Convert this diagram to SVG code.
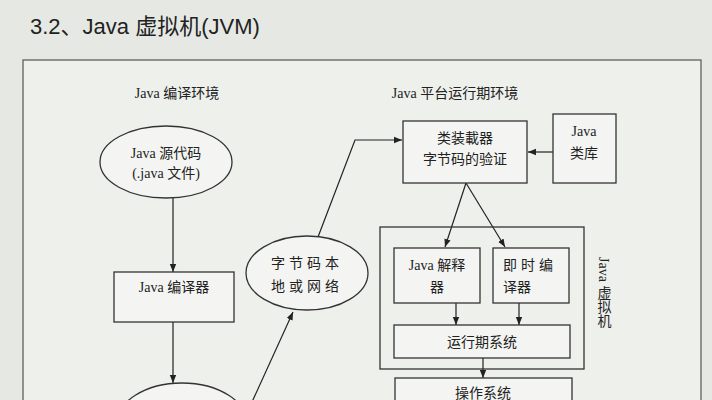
<svg xmlns="http://www.w3.org/2000/svg" width="712" height="400" viewBox="0 0 712 400">
<defs>
<marker id="ah" viewBox="0 0 10 10" refX="10" refY="5" markerWidth="8" markerHeight="8" markerUnits="userSpaceOnUse" orient="auto"><path d="M0,1 L10,5 L0,9 z" fill="#222"/></marker>
<style>
.s{fill:none;stroke:#333;stroke-width:1.3}
.b{fill:#f4f5f2;stroke:#333;stroke-width:1.3}
.t{font-family:"Liberation Serif","Noto Sans CJK SC",serif;font-size:14px;fill:#222}
.c{text-anchor:middle}
.l{fill:none;stroke:#222;stroke-width:1.2;marker-end:url(#ah)}
</style>
</defs>
<rect width="712" height="400" fill="#e6e9e3"/>
<text x="30" y="34" font-family="Liberation Sans,Noto Sans CJK SC,sans-serif" font-size="22" fill="#222">3.2、Java 虚拟机(JVM)</text>
<rect x="23" y="60" width="678" height="350" fill="#eef0ec" stroke="#555" stroke-width="1.2"/>
<text class="t c" x="177" y="98">Java 编译环境</text>
<text class="t c" x="455" y="98">Java 平台运行期环境</text>
<g id="connectors">
<path class="l" d="M173,198 V272"/>
<path class="l" d="M173,322 V383"/>
<path class="l" d="M252,402 L293,312"/>
<path class="l" d="M318,237 L355,140 H402"/>
<path class="l" d="M553,152 H528"/>
<path class="l" d="M466,183 L445,247"/>
<path class="l" d="M466,183 L505,247"/>
<path class="l" d="M456,303 V325"/>
<path class="l" d="M519,303 V325"/>
<path class="l" d="M483,358 V378"/>
</g>
<g id="src"><ellipse class="b" cx="166" cy="162" rx="66" ry="36"/><text class="t c" x="166" y="158">Java 源代码</text><text class="t c" x="166" y="178">(.java 文件)</text></g>
<g id="javac"><rect class="b" x="114" y="272" width="120" height="50"/><text class="t c" x="174" y="292">Java 编译器</text></g>
<g id="bytecode2"><ellipse class="b" cx="182" cy="425" rx="66" ry="42"/></g>
<g id="bytecode"><ellipse class="b" cx="307" cy="273" rx="61" ry="37"/><text class="t c" x="307" y="268" letter-spacing="4">字节码本</text><text class="t c" x="307" y="291" letter-spacing="4">地或网络</text></g>
<g id="loader"><rect class="b" x="403" y="121" width="124" height="62"/><text class="t c" x="465" y="143">类装載器</text><text class="t c" x="465" y="164">字节码的验证</text></g>
<g id="lib"><rect class="b" x="553" y="114" width="63" height="69"/><text class="t c" x="584" y="136">Java</text><text class="t c" x="584" y="158">类库</text></g>
<g id="jvm"><rect class="s" x="380" y="227" width="204" height="142"/>
<text class="t" x="603" y="257" style="writing-mode:vertical-rl">Java 虚拟机</text></g>
<g id="interp"><rect class="b" x="394" y="248" width="86" height="55"/><text class="t c" x="437" y="270">Java 解释</text><text class="t c" x="437" y="292">器</text></g>
<g id="jit"><rect class="b" x="493" y="248" width="76" height="55"/><text class="t" x="503" y="270" letter-spacing="4">即时编</text><text class="t" x="503" y="292">译器</text></g>
<g id="rt"><rect class="b" x="394" y="325" width="176" height="33"/><text class="t c" x="482" y="347">运行期系统</text></g>
<g id="os"><rect class="b" x="395" y="378" width="177" height="40"/><text class="t c" x="483" y="398">操作系统</text></g>
</svg>
